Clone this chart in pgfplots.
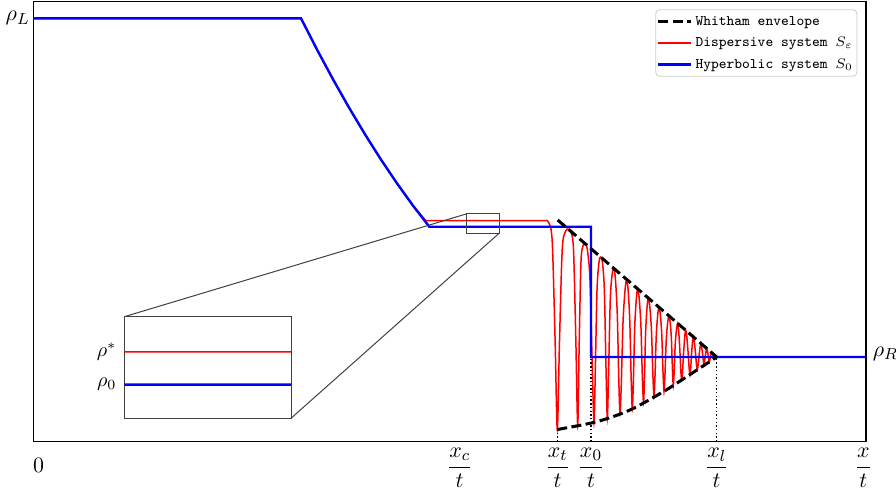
\documentclass[border=0pt]{standalone}
\usepackage{fontspec}
\usepackage{amsmath}
\usepackage{pgfplots}
\usepackage{pgfplotstable}
\pgfplotsset{compat=1.18}
\usetikzlibrary{calc}

% coordinates: x in pixels of the reference, y = height above the bottom frame
\pgfplotstableread{
x y
33.5 422.7
301 422.7
317 391.45
333 361.69
349 333.43
365 306.67
381 281.41
397 257.64
413 235.37
429.3 214.3
591 214.3
591 84
866 84
}\bluedata

\pgfplotstableread{
x y
33.5 422.7
301 422.7
317 391.45
333 361.69
349 333.43
365 306.67
381 281.41
397 257.64
413 235.37
425.7 220.5
546 220.5
}\redflat

\pgfplotstableread{
x y
546 220.5
548.83 218.4
552.22 199.6
555.04 103.5
557.3 11.5
559.5 99.7
562.25 191.9
565.55 209.9
568.3 211.9
570.65 209.9
573.47 192.3
575.82 101.9
577.7 15.5
579.16 95.6
580.99 179.3
583.18 195.7
585 197.5
587.25 192.1
589.95 161.8
592.2 76.0
594 18.8
595.34 71.7
597.02 151.0
599.03 179.0
600.7 184.0
602.35 179.2
604.33 151.8
605.98 74.5
607.3 23.0
608.64 70.8
610.32 142.6
612.33 168.0
614 172.5
615.5 160.9
617.3 126.1
618.8 60.9
620 27.5
621.34 58.3
623.02 118.6
625.03 150.8
626.7 161.5
628.1 151.2
629.78 120.2
631.18 62.0
632.3 32.3
633.38 59.9
634.73 113.8
636.35 142.5
637.7 152.1
639.15 143.0
640.89 115.7
642.34 64.6
643.5 38.4
644.46 62.4
645.66 109.5
647.1 134.5
648.3 142.9
649.73 135.0
651.44 111.3
652.86 66.9
654 44.2
655.0 64.8
656.25 105.1
657.75 126.5
659 133.7
660.25 127.0
661.75 106.8
663.0 69.0
664 49.7
665.0 67.0
666.25 101.0
667.75 119.1
669 125.1
670.08 119.5
671.37 102.9
672.44 71.7
673.3 55.7
674.18 69.9
675.28 97.8
676.6 112.6
677.7 117.6
678.7 109.7
679.9 89.9
680.9 69.0
681.7 61.1
682.5 68.0
683.5 86.4
684.7 103.8
685.7 110.7
686.78 104.5
688.07 89.0
689.14 72.7
690 66.5
690.66 71.8
691.49 85.7
692.48 98.9
693.3 104.2
694.3 99.6
695.5 88.1
696.5 76.0
697.3 71.4
698.04 75.1
698.97 84.7
700.08 93.8
701 97.5
702.65 86.9
704 75.8
705.22 84.4
706.7 92.6
708.13 86.1
709.3 79.4
710.38 83.9
711.7 88.3
712.97 85.5
714 82.5
715.2 83.3
716.7 84
}\redosc

\pgfplotstableread{
x y
716.7 84
866 84
}\redtail

\pgfplotstableread{
x y
557.7 221
716.7 84
}\envup

\pgfplotstableread{
x y
557.3 11.5
596.7 19.3
630 31
663.3 49.3
686.7 64.3
716.7 84
}\envlow

\tikzset{
  hypstyle/.style={blue, line width=1.2pt},
  disstyle/.style={red, line width=0.75pt},
  whitstyle/.style={black, line width=1.5pt, dash pattern=on 5pt off 2.2pt},
  dotstyle/.style={black, line width=0.6pt, dash pattern=on 0.7pt off 1.15pt},
  zoomstyle/.style={black!75, line width=0.5pt}
}

\begin{document}
\begin{tikzpicture}
\begin{axis}[
  scale only axis, width=416.25pt, height=220pt,
  xmin=33.5, xmax=866, ymin=-0.5, ymax=439.5,
  axis line style={black, line width=0.6pt},
  xtick={38.5,459.7,557.7,591,716.7,863.3},
  xticklabels={$0$,$\dfrac{x_c}{t}$,$\dfrac{x_t}{t}$,$\dfrac{x_0}{t}$,$\dfrac{x_l}{t}$,$\dfrac{x}{t}$},
  ytick={422.7}, yticklabels={$\rho_L$},
  major tick length=0pt,
  xticklabel style={anchor=base, yshift=-15.5pt, font=\fontsize{11.3}{13}\selectfont},
  yticklabel style={anchor=east, inner sep=0pt, xshift=-1.75pt, font=\fontsize{11}{13}\selectfont},
  clip=false,
  legend image code/.code={\draw[#1] (0pt,0pt) -- (16.5pt,0pt);},
  legend cell align=left,
  legend style={at={(1,1)}, anchor=north east, xshift=-4.35pt, yshift=-3.9pt,
    draw=black!20, rounded corners=2pt, fill=white,
    inner xsep=0.5pt, inner ysep=0.9pt, row sep=0.45pt,
    nodes={inner sep=1.5pt, text height=5.5pt, text depth=1.7pt},
    font=\fontsize{7.3}{8.8}\selectfont\ttfamily},
  /tikz/every even column/.append style={column sep=2.65pt},
]
\addlegendimage{whitstyle}
\addlegendentry{Whitham envelope}
\addlegendimage{disstyle}
\addlegendentry{Dispersive system $S_\varepsilon$}
\addlegendimage{hypstyle}
\addlegendentry{Hyperbolic system $S_0$}

\addplot[disstyle, forget plot] table {\redflat};
\addplot[disstyle, smooth, forget plot] table {\redosc};
\addplot[disstyle, forget plot] table {\redtail};
\addplot[hypstyle, forget plot] table {\bluedata};
\addplot[whitstyle, forget plot] table {\envup};
\addplot[whitstyle, smooth, forget plot] table {\envlow};

\addplot[dotstyle, forget plot] coordinates {(557.7,-0.5) (557.7,11.5)};
\addplot[dotstyle, forget plot] coordinates {(591,-0.5) (591,84)};
\addplot[dotstyle, forget plot] coordinates {(716.7,-0.5) (716.7,84)};

\draw[zoomstyle] (axis cs:466.7,207.9) rectangle (axis cs:499.3,227.2);
\coordinate (r1) at (axis cs:466.7,227.2);
\coordinate (r2) at (axis cs:499.3,207.9);
\node[anchor=west, inner sep=0pt, xshift=3.2pt, yshift=1.5pt, font=\fontsize{11}{13}\selectfont] at (axis cs:866,84) {$\rho_R$};
\coordinate (sw) at (rel axis cs:0,0);
\coordinate (ne) at (rel axis cs:1,1);
\end{axis}

\begin{axis}[
  at={($(sw)+(45.4pt,11.6pt)$)}, anchor=south west,
  scale only axis, width=83.35pt, height=50.8pt,
  xmin=466.7, xmax=499.3, ymin=207.9, ymax=227.2,
  axis line style={zoomstyle},
  xtick=\empty,
  ytick={214.3,220.5}, yticklabels={$\rho_0$,$\rho^*$},
  major tick length=0pt,
  yticklabel style={anchor=east, inner sep=0pt, xshift=-3.8pt, font=\fontsize{10}{12}\selectfont},
]
\addplot[disstyle] table {\redflat};
\addplot[hypstyle] table {\bluedata};
\coordinate (inw) at (rel axis cs:0,1);
\coordinate (ise) at (rel axis cs:1,0);
\end{axis}

\draw[zoomstyle] (inw) -- (r1);
\draw[zoomstyle] (ise) -- (r2);

\pgfresetboundingbox
\path ([shift={(-16.75pt,-23.75pt)}]sw) rectangle ([shift={(15pt,0.75pt)}]ne);
\end{tikzpicture}
\end{document}
